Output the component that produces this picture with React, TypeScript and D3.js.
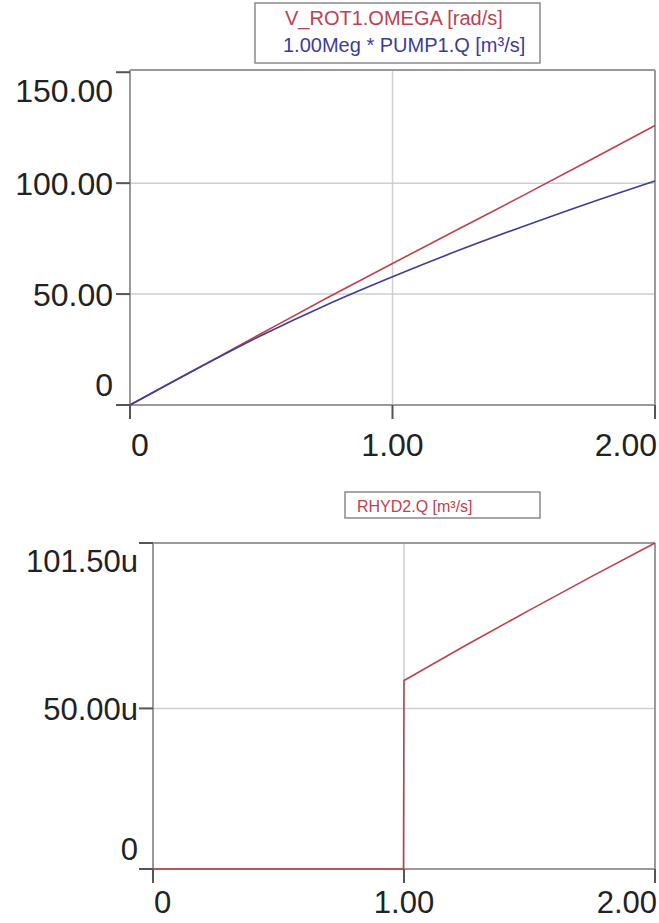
import React from "react";
import * as d3 from "d3";

// ---- data ----
const TIME = [0, 0.25, 0.5, 0.75, 1.0, 1.25, 1.5, 1.75, 2.0];
const OMEGA = [0, 16.1, 32.2, 48.2, 63.8, 79.2, 94.6, 110.2, 126];
const PUMP_Q = [0, 16, 31.3, 45.2, 57.8, 69.6, 80.6, 91.1, 101];
const RHYD_T = [0, 0.5, 0.998, 1.0, 1.25, 1.5, 1.75, 2.0];
const RHYD_Q = [0, 0, 0, 58.7, 69.8, 80.6, 91.2, 101.5];

const TOP_Y_TICKS = [0, 50, 100, 150];
const TOP_Y_LABELS = ["0", "50.00", "100.00", "150.00"];
const BOT_Y_TICKS = [0, 50, 101.5];
const BOT_Y_LABELS = ["0", "50.00u", "101.50u"];
const X_TICKS = [0, 1, 2];
const X_LABELS = ["0", "1.00", "2.00"];

const TOP_LEGEND = ["V_ROT1.OMEGA [rad/s]", "1.00Meg * PUMP1.Q [m\u00b3/s]"];
const BOT_LEGEND = ["RHYD2.Q [m\u00b3/s]"];

const RED = "#c0404e";
const BLUE = "#3c3c9c";
const FRAME = "#9a9a9a";
const GRID = "#cfcfcf";
const TICK = "#555";
const FONT = "'Liberation Sans', Arial, sans-serif";

type PanelProps = {
  left: number; right: number; top: number; bottom: number;
  yMax: number; yTicks: number[]; yLabels: string[]; grids: number[];
  labelRight: number; fontSize: number; xLabelBase: number; smooth: boolean;
  series: { xs: number[]; ys: number[]; color: string }[];
};

function Panel(p: PanelProps) {
  const x = d3.scaleLinear().domain([0, 2]).range([p.left, p.right]);
  const y = d3.scaleLinear().domain([0, p.yMax]).range([p.bottom, p.top]);
  const n = p.yTicks.length;
  return (
    <g>
      {p.grids.map((g) => (
        <line key={"hg" + g} x1={p.left} x2={p.right} y1={y(g)} y2={y(g)} stroke={GRID} strokeWidth={1.5} />
      ))}
      <line x1={x(1)} x2={x(1)} y1={p.top} y2={p.bottom} stroke={GRID} strokeWidth={1.5} />
      <line x1={p.left} x2={p.right} y1={p.top} y2={p.top} stroke={FRAME} strokeWidth={2} />
      <line x1={p.right} x2={p.right} y1={p.top} y2={p.bottom} stroke={FRAME} strokeWidth={2} />
      <line x1={p.left} x2={p.right} y1={p.bottom} y2={p.bottom} stroke={FRAME} strokeWidth={2} />
      <line x1={p.left} x2={p.left} y1={p.top} y2={p.bottom} stroke={FRAME} strokeWidth={2} />
      {p.series.map((s, i) => {
        const line = d3.line<number>()
          .x((_, k) => x(s.xs[k]))
          .y((v) => y(v))
          .curve(p.smooth ? d3.curveMonotoneX : d3.curveLinear);
        return <path key={i} d={line(s.ys) || ""} fill="none" stroke={s.color} strokeWidth={1.6} />;
      })}
      {p.yTicks.map((t, i) => {
        const yy = y(t);
        let base = yy + p.fontSize * 0.36;
        if (i === n - 1) base = yy + p.fontSize * 0.92;
        if (i === 0) base = yy - 9;
        return (
          <g key={"yt" + t}>
            <line x1={p.left - 14} x2={p.left} y1={yy} y2={yy} stroke={TICK} strokeWidth={2} />
            <text x={p.labelRight} y={base} textAnchor="end" fontSize={p.fontSize} fill="#222" fontFamily={FONT}>
              {p.yLabels[i]}
            </text>
          </g>
        );
      })}
      {X_TICKS.map((t, i) => {
        const xx = x(t);
        const anchor = i === 0 ? "start" : i === X_TICKS.length - 1 ? "end" : "middle";
        return (
          <g key={"xt" + t}>
            <line x1={xx} x2={xx} y1={p.bottom} y2={p.bottom + 14} stroke={TICK} strokeWidth={2} />
            <text x={i === X_TICKS.length - 1 ? xx + 2 : xx + (i === 0 ? 1 : 0)} y={p.xLabelBase} textAnchor={anchor}
              fontSize={p.fontSize} fill="#222" fontFamily={FONT}>
              {X_LABELS[i]}
            </text>
          </g>
        );
      })}
    </g>
  );
}

export default function App() {
  return (
    <svg width={659} height={923} style={{ position: "absolute", left: 0, top: 0, background: "#fff" }}>
      <rect x={0} y={0} width={659} height={923} fill="#fff" />
      <rect x={255} y={3} width={285} height={60} fill="#fff" stroke="#8a8a8a" strokeWidth={1.5} />
      <text x={285} y={25} fontSize={20} fill={RED} fontFamily={FONT}>{TOP_LEGEND[0]}</text>
      <text x={283} y={52} fontSize={20} fill={BLUE} fontFamily={FONT}>{TOP_LEGEND[1]}</text>
      <Panel left={130} right={655} top={70} bottom={405} yMax={151}
        yTicks={TOP_Y_TICKS} yLabels={TOP_Y_LABELS} grids={[50, 100]}
        labelRight={113} fontSize={32} xLabelBase={456} smooth={true}
        series={[
          { xs: TIME, ys: OMEGA, color: RED },
          { xs: TIME, ys: PUMP_Q, color: BLUE },
        ]} />
      <rect x={345} y={492} width={195} height={26} fill="#fff" stroke="#8a8a8a" strokeWidth={1.5} />
      <text x={357} y={512} fontSize={16} fill={RED} fontFamily={FONT}>{BOT_LEGEND[0]}</text>
      <Panel left={153} right={655} top={543} bottom={869} yMax={101.5}
        yTicks={BOT_Y_TICKS} yLabels={BOT_Y_LABELS} grids={[50]}
        labelRight={138} fontSize={31} xLabelBase={913} smooth={false}
        series={[{ xs: RHYD_T, ys: RHYD_Q, color: RED }]} />
    </svg>
  );
}
